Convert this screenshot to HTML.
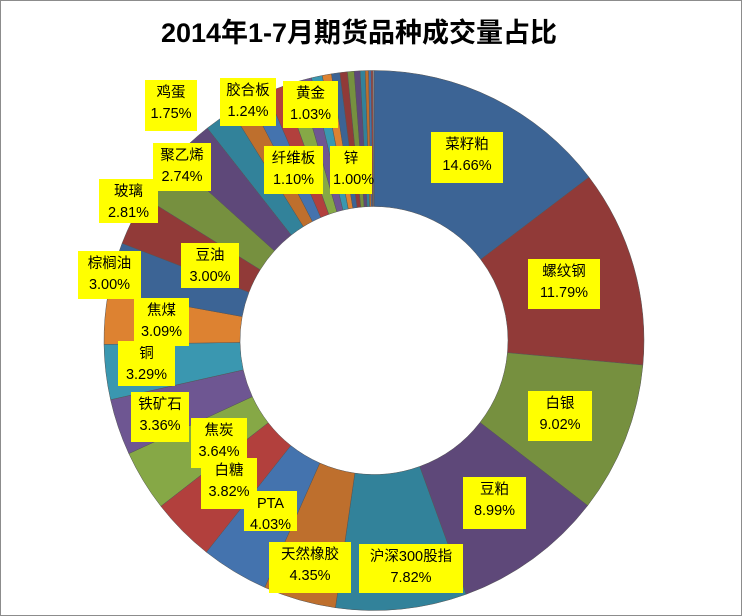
<!DOCTYPE html>
<html><head><meta charset="utf-8"><style>
body{margin:0;background:#fff;}
#c{position:relative;width:740px;height:614px;border:1px solid #8c8c8c;overflow:hidden;font-family:"Liberation Sans","Noto Sans CJK SC",sans-serif;}
.t{position:absolute;left:0;width:716px;top:10px;text-align:center;font-weight:bold;font-size:27px;color:#000;}
.l{position:absolute;background:#ffff00;text-align:center;font-size:14.5px;line-height:21px;color:#000;padding:3px 3px;box-sizing:border-box;}
svg{position:absolute;left:0;top:0;}
</style></head><body><div id="c">
<svg id="s" width="740" height="614"></svg>
<div class="t">2014年1-7月期货品种成交量占比</div>
<div class="l" style="left:430px;top:131px;width:72px;height:51px">菜籽粕<br>14.66%</div>
<div class="l" style="left:527px;top:258px;width:72px;height:50px">螺纹钢<br>11.79%</div>
<div class="l" style="left:527px;top:390px;width:64px;height:50px">白银<br>9.02%</div>
<div class="l" style="left:462px;top:476px;width:63px;height:52px">豆粕<br>8.99%</div>
<div class="l" style="left:358px;top:543px;width:104px;height:49px">沪深300股指<br>7.82%</div>
<div class="l" style="left:268px;top:541px;width:82px;height:51px">天然橡胶<br>4.35%</div>
<div class="l" style="left:243px;top:490px;width:53px;height:40px">PTA<br>4.03%</div>
<div class="l" style="left:190px;top:417px;width:56px;height:50px">焦炭<br>3.64%</div>
<div class="l" style="left:200px;top:457px;width:56px;height:51px">白糖<br>3.82%</div>
<div class="l" style="left:130px;top:391px;width:58px;height:50px">铁矿石<br>3.36%</div>
<div class="l" style="left:117px;top:340px;width:57px;height:45px">铜<br>3.29%</div>
<div class="l" style="left:133px;top:297px;width:55px;height:48px">焦煤<br>3.09%</div>
<div class="l" style="left:77px;top:250px;width:63px;height:48px">棕榈油<br>3.00%</div>
<div class="l" style="left:180px;top:242px;width:58px;height:45px">豆油<br>3.00%</div>
<div class="l" style="left:98px;top:178px;width:59px;height:44px">玻璃<br>2.81%</div>
<div class="l" style="left:152px;top:142px;width:58px;height:48px">聚乙烯<br>2.74%</div>
<div class="l" style="left:144px;top:79px;width:52px;height:51px">鸡蛋<br>1.75%</div>
<div class="l" style="left:219px;top:77px;width:56px;height:48px">胶合板<br>1.24%</div>
<div class="l" style="left:282px;top:80px;width:55px;height:47px">黄金<br>1.03%</div>
<div class="l" style="left:263px;top:145px;width:59px;height:48px">纤维板<br>1.10%</div>
<div class="l" style="left:329px;top:145px;width:42px;height:48px">锌<br>1.00%</div>
</div>
<script>
var v=[14.66,11.79,9.02,8.99,7.82,4.35,4.03,3.82,3.64,3.36,3.29,3.09,3.00,3.00,2.81,2.74,1.75,1.24,1.10,1.03,1.00,0.75,0.65,0.55,0.5,0.45,0.4,0.35,0.3,0.2,0.15,0.1,0.07];
var col=["#3C6495","#913A38","#76903F","#5E4879","#32829A","#BE6F2D","#4473AE","#B2403D","#86A846","#6E5692","#3A97B0","#DD8231"];
var cx=373,cy=339.5,R=270,r=134,tot=0;v.forEach(function(x){tot+=x});
var a=0,h="";
function p(ang,rad){return (cx+rad*Math.sin(ang)).toFixed(2)+","+(cy-rad*Math.cos(ang)).toFixed(2);}
for(var i=0;i<v.length;i++){var b=a+v[i]/tot*2*Math.PI;var lg=(b-a)>Math.PI?1:0;
var c=i==v.length-1?"#999":col[i%12];
h+='<path d="M'+p(a,R)+'A'+R+','+R+' 0 '+lg+' 1 '+p(b,R)+'L'+p(b,r)+'A'+r+','+r+' 0 '+lg+' 0 '+p(a,r)+'Z" fill="'+c+'" stroke="#555" stroke-width="0.5"/>';a=b;}
document.getElementById("s").innerHTML=h;
</script>
</body></html>
